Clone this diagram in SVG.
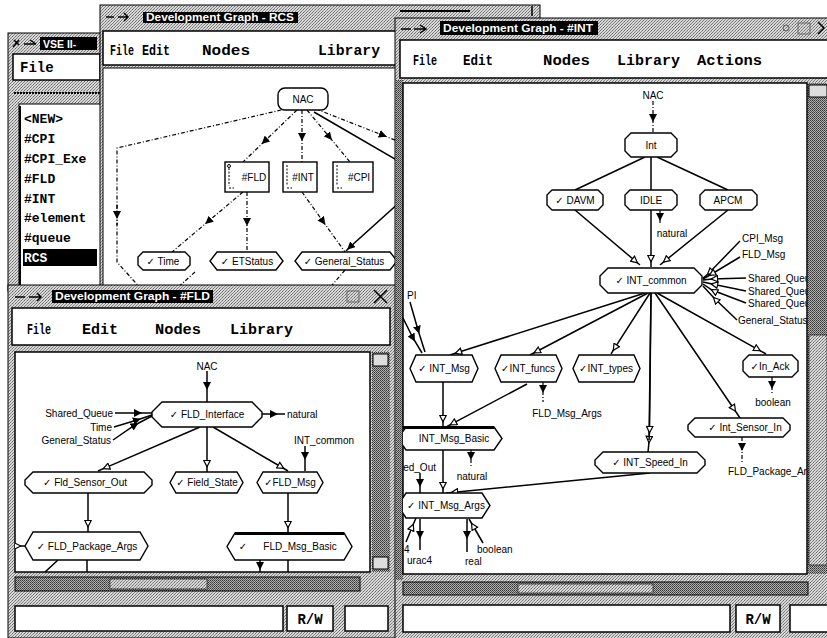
<svg xmlns="http://www.w3.org/2000/svg" width="827" height="638" viewBox="0 0 827 638">
<defs>
<pattern id="dz" width="3" height="3" patternUnits="userSpaceOnUse"><rect width="3" height="3" fill="#d8d8d8"/><rect x="0" y="0" width="1" height="1" fill="#6a6a6a"/><rect x="2" y="1" width="1" height="1" fill="#8a8a8a"/><rect x="1" y="2" width="1" height="1" fill="#7a7a7a"/></pattern>
<pattern id="dk" width="2" height="2" patternUnits="userSpaceOnUse"><rect width="2" height="2" fill="#b0b0b0"/><rect x="0" y="0" width="1" height="1" fill="#333"/><rect x="1" y="1" width="1" height="1" fill="#555"/></pattern>
<marker id="fa" viewBox="0 0 10 10" refX="5" refY="5" markerWidth="8" markerHeight="8" markerUnits="userSpaceOnUse" orient="auto"><path d="M0,0 L10,5 L0,10 z" fill="#000"/></marker>
<marker id="oa" viewBox="0 0 10 10" refX="8" refY="5" markerWidth="8" markerHeight="8" markerUnits="userSpaceOnUse" orient="auto"><path d="M1,1 L9,5 L1,9 z" fill="#fff" stroke="#000" stroke-width="1.5"/></marker>
<clipPath id="cRcs"><rect x="103" y="68" width="293" height="222"/></clipPath>
<clipPath id="cFld"><rect x="15" y="352" width="355" height="220"/></clipPath>
<clipPath id="cInt"><rect x="403" y="83" width="404" height="491"/></clipPath>
<style>
.frame{fill:url(#dz);stroke:#000;stroke-width:1}
.w{fill:#fff;stroke:#000;stroke-width:1.5}
.menu{font-family:"Liberation Mono","DejaVu Sans Mono",monospace;font-weight:bold;font-size:14px;fill:#000}
.vl{font-family:"Liberation Mono","DejaVu Sans Mono",monospace;font-weight:bold;font-size:13px;fill:#000}
.title{font-family:"Liberation Sans",Arial,sans-serif;font-weight:bold;font-size:10.5px;fill:#fff}
.n{fill:#fff;stroke:#000;stroke-width:1.4}
.l{font-family:"Liberation Sans",Arial,"DejaVu Sans",sans-serif;font-size:10px;fill:#000;text-anchor:middle}
.ls{font-family:"Liberation Sans",Arial,"DejaVu Sans",sans-serif;font-size:10px;fill:#000;text-anchor:start}
.le{font-family:"Liberation Sans",Arial,"DejaVu Sans",sans-serif;font-size:10px;fill:#000;text-anchor:end}
.e{fill:none;stroke:#000;stroke-width:1.5}
.d{stroke-dasharray:4 2 1 2;stroke-width:1.2}
.mf{marker-mid:url(#fa)}
.mo{marker-mid:url(#oa)}
.ic{fill:none;stroke:#000;stroke-width:1.5}
</style>
</defs>
<rect width="827" height="638" fill="#fff"/>

<!-- VSE II window -->
<g id="vse-window">
<rect x="8" y="33" width="96" height="258" class="frame"/>
<path d="M13,47 l6,-7 M14,40 l5,5 M24,44 h12 M30,40 l6,4" class="ic"/>
<rect x="40" y="37" width="57" height="13" fill="#000"/>
<text x="43" y="47.5" class="title">VSE II-</text>
<rect x="13" y="54" width="87" height="26" class="w"/>
<text x="20" y="72" class="menu">File</text>
<line x1="14" y1="93" x2="100" y2="93" stroke="#000" stroke-width="2" stroke-dasharray="2 1"/>
<rect x="19" y="104" width="84" height="190" fill="#fff" stroke="#000"/>
<line x1="20" y1="106" x2="20" y2="290" stroke="#000" stroke-width="2"/>
<rect x="23" y="249" width="74" height="17" fill="#000"/>
<text x="24" y="123" class="vl">&lt;NEW&gt;</text>
<text x="24" y="143" class="vl">#CPI</text>
<text x="24" y="163" class="vl">#CPI_Exe</text>
<text x="24" y="183" class="vl">#FLD</text>
<text x="24" y="203" class="vl">#INT</text>
<text x="24" y="222" class="vl">#element</text>
<text x="24" y="242" class="vl">#queue</text>
<text x="24" y="262" class="vl" fill="#fff" style="fill:#fff">RCS</text>
</g>

<!-- RCS window -->
<g id="rcs-window">
<rect x="100" y="5" width="440" height="290" class="frame"/>
<rect x="400" y="10" width="70" height="2" fill="#000"/>
<line x1="532" y1="6" x2="532" y2="16" stroke="#000" stroke-width="1.5"/>
<path d="M106,17 h8 M118,17 h10 M124,13 l4,4 l-4,4" class="ic"/>
<rect x="143" y="12" width="155" height="11" fill="#000"/>
<text x="146" y="21" class="title" textLength="148" lengthAdjust="spacingAndGlyphs">Development Graph - RCS</text>
<rect x="103" y="31" width="300" height="34" class="w"/>
<text x="110" y="55" class="menu" textLength="24" lengthAdjust="spacingAndGlyphs">File</text>
<text x="142" y="55" class="menu" textLength="28" lengthAdjust="spacingAndGlyphs">Edit</text>
<text x="202" y="55" class="menu" textLength="48" lengthAdjust="spacingAndGlyphs">Nodes</text>
<text x="318" y="55" class="menu" textLength="62" lengthAdjust="spacingAndGlyphs">Library</text>
<rect x="103" y="68" width="295" height="225" fill="#fff" stroke="#000"/>
<g clip-path="url(#cRcs)">
<g id="rcs-edges">
<path d="M290,108 L117,148 L117,262 L142,290" class="e d"/>
<path d="M117,205 L117,215 L117,225" class="e d mf"/>
<path d="M297,110 L264.6,141.2 L243,162" class="e d mf"/>
<path d="M302,110 L302,137 L302,162" class="e d mf"/>
<path d="M307,110 L329.4,137 L350,162" class="e d mf"/>
<path d="M316,109 L383,135.3 L400,142" class="e d mf"/>
<path d="M314,112 L400,162" class="e"/>
<path d="M243,192 L208.2,221.4 L172,252" class="e d mf"/>
<path d="M247,192 L247,222 L247,252" class="e d mf"/>
<path d="M302,192 L323,221.4 L345,252" class="e d mf"/>
<path d="M400,202 L350,247 L346,251" class="e mf"/>
<path d="M345,270 L328,290" class="e d"/>
<path d="M195,272 L175,290" class="e d"/>
</g>
<g id="rcs-NAC"><rect x="278" y="88" width="50" height="22" rx="7" class="n"/><text x="303" y="102.5" class="l">NAC</text></g>
<g id="rcs-FLD"><rect x="225" y="162" width="44" height="30" class="n"/><circle cx="229" cy="166" r="1.5" fill="none" stroke="#000"/><path d="M229,168 V186 M229,188 h5" stroke="#000" stroke-dasharray="2 1.5" fill="none"/><text x="254" y="181" class="l">#FLD</text></g>
<g id="rcs-INT"><rect x="283" y="162" width="34" height="30" class="n"/><path d="M287,165 V186 M287,188 h5" stroke="#000" stroke-dasharray="2 1.5" fill="none"/><text x="303" y="181" class="l">#INT</text></g>
<g id="rcs-CPI"><rect x="333" y="162" width="40" height="30" class="n"/><path d="M337,165 V186 M337,188 h5" stroke="#000" stroke-dasharray="2 1.5" fill="none"/><text x="359" y="181" class="l">#CPI</text></g>
<g id="rcs-Time"><polygon points="143,252 185,252 190,257 190,265 185,270 143,270 138,265 138,257" class="n"/><text x="163" y="264.5" class="l">✓ Time</text></g>
<g id="rcs-ETStatus"><polygon points="217,252 276,252 283,261 276,270 217,270 210,261" class="n"/><text x="247" y="264.5" class="l">✓  ETStatus</text></g>
<g id="rcs-General_Status"><polygon points="302,252 390,252 397,261 390,270 302,270 295,261" class="n"/><text x="344" y="264.5" class="l">✓ General_Status</text></g>
</g>
</g>

<!-- FLD window -->
<g id="fld-window">
<rect x="8" y="285" width="390" height="353" class="frame"/>
<path d="M15,297 h10 M29,297 h12 M37,293 l4,4 l-4,4" class="ic"/>
<rect x="52" y="290" width="161" height="13" fill="#000"/>
<text x="55" y="300" class="title" textLength="155" lengthAdjust="spacingAndGlyphs">Development Graph - #FLD</text>
<rect x="347" y="291" width="12" height="11" fill="none" stroke="#666"/>
<path d="M374,290 l13,13 M387,290 l-13,13" stroke="#000" stroke-width="1.5"/>
<rect x="12" y="308" width="378" height="37" class="w"/>
<text x="27" y="334" class="menu" textLength="24" lengthAdjust="spacingAndGlyphs">File</text>
<text x="82" y="334" class="menu" textLength="36" lengthAdjust="spacingAndGlyphs">Edit</text>
<text x="155" y="334" class="menu" textLength="46" lengthAdjust="spacingAndGlyphs">Nodes</text>
<text x="230" y="334" class="menu" textLength="63" lengthAdjust="spacingAndGlyphs">Library</text>
<rect x="15" y="352" width="355" height="220" fill="#fff" stroke="#000" stroke-width="1.5"/>
<rect x="372" y="352" width="18" height="220" fill="url(#dk)"/>
<rect x="373" y="354" width="15" height="12" fill="#ddd" stroke="#000"/>
<rect x="373" y="557" width="15" height="12" fill="#ddd" stroke="#000"/>
<rect x="15" y="577" width="345" height="14" fill="url(#dk)" stroke="#000"/>
<rect x="110" y="579" width="97" height="10" fill="url(#dz)" stroke="#000" stroke-width="0.6"/>
<rect x="15" y="606" width="268" height="25" class="w"/>
<rect x="287" y="606" width="46" height="25" fill="#fff" stroke="#000" stroke-width="1.5"/>
<text x="310" y="624" class="menu" text-anchor="middle">R/W</text>
<rect x="345" y="606" width="43" height="25" class="w"/>
<g clip-path="url(#cFld)">
<g id="fld-edges">
<path d="M207,371 L207,386 L207,402" class="e mf"/>
<path d="M262,414 L274,414 L285,414" class="e mf"/>
<path d="M115,413 L138,413 L152,413" class="e mf"/>
<path d="M114,427 L137,420 L152,415" class="e mf"/>
<path d="M113,440 L135,425 L152,416" class="e mf"/>
<path d="M200,427 L104,468.4 L98,471" class="e mo"/>
<path d="M207,427 L207,466 L207,472" class="e mo"/>
<path d="M213,427 L283,468 L288,471" class="e mo"/>
<path d="M305,446 L305,456 L305,471" class="e mf"/>
<path d="M88,493 L88,526 L88,532" class="e mo"/>
<path d="M288,493 L288,527 L288,533" class="e mo"/>
<path d="M10,546 L20,546 L25,546" class="e mo"/>
<path d="M87,560 L87,572 M58,560 L45,572 M288,560 L288,572" class="e"/>
<path d="M260,560 L260,566 L260,572" class="e mf"/>
</g>
<text x="207" y="369.5" class="l">NAC</text>
<text x="287" y="417.5" class="ls">natural</text>
<text x="113" y="416.5" class="le">Shared_Queue</text>
<text x="112" y="430.5" class="le">Time</text>
<text x="111" y="444" class="le">General_Status</text>
<text x="324" y="444" class="l">INT_common</text>
<g id="fld-FLD_Interface"><polygon points="162,402 252,402 262,412 262,417 252,427 162,427 152,417 152,412" class="n"/><text x="207" y="418" class="l">✓ FLD_Interface</text></g>
<g id="fld-Fld_Sensor_Out"><polygon points="33,472 144,472 152,480 152,485 144,493 33,493 25,485 25,480" class="n"/><text x="85" y="486" class="l">✓ Fld_Sensor_Out</text></g>
<g id="fld-Field_State"><polygon points="176,472 237,472 243,482.5 237,493 176,493 170,482.5" class="n"/><text x="207" y="486" class="l">✓ Field_State</text></g>
<g id="fld-FLD_Msg"><polygon points="263,472 317,472 323,482.5 317,493 263,493 257,482.5" class="n"/><text x="290" y="486" class="l">✓FLD_Msg</text></g>
<g id="fld-FLD_Package_Args"><polygon points="33,532 140,532 148,546 140,560 33,560 25,546" class="n"/><text x="87" y="549.5" class="l">✓ FLD_Package_Args</text></g>
<g id="fld-FLD_Msg_Basic"><polygon points="235,533 344,533 352,546.5 344,560 235,560 227,546.5" class="n"/><line x1="235" y1="533.5" x2="344" y2="533.5" stroke="#000" stroke-width="3"/><text x="243" y="549.5" class="l">✓</text><text x="300" y="550" class="l">FLD_Msg_Basic</text></g>
</g>
</g>

<!-- INT window -->
<g id="int-window">
<rect x="395" y="18" width="435" height="622" class="frame"/>
<rect x="396" y="80" width="7" height="500" fill="url(#dk)"/>
<path d="M401,29 h10 M414,29 h12 M420,25 l6,4 l-6,4" class="ic"/>
<rect x="440" y="21" width="158" height="14" fill="#000"/>
<text x="443" y="31.5" class="title" textLength="150" lengthAdjust="spacingAndGlyphs">Development Graph - #INT</text>
<circle cx="786" cy="28" r="3" fill="none" stroke="#666"/>
<rect x="798" y="23" width="12" height="11" fill="none" stroke="#666"/>
<path d="M818,22 l6,6 l-6,6" fill="none" stroke="#000" stroke-width="1.5"/>
<rect x="400" y="40" width="430" height="38" class="w"/>
<text x="413" y="65" class="menu" textLength="24" lengthAdjust="spacingAndGlyphs">File</text>
<text x="463" y="65" class="menu" textLength="30" lengthAdjust="spacingAndGlyphs">Edit</text>
<text x="543" y="65" class="menu" textLength="47" lengthAdjust="spacingAndGlyphs">Nodes</text>
<text x="617" y="65" class="menu" textLength="63" lengthAdjust="spacingAndGlyphs">Library</text>
<text x="697" y="65" class="menu" textLength="65" lengthAdjust="spacingAndGlyphs">Actions</text>
<rect x="403" y="83" width="404" height="491" fill="#fff" stroke="#000" stroke-width="1.5"/>
<rect x="808" y="83" width="19" height="491" fill="url(#dk)"/>
<rect x="809" y="85" width="18" height="12" fill="#ddd" stroke="#000"/>
<rect x="809" y="335" width="18" height="230" fill="url(#dz)" stroke="#000" stroke-width="0.6"/>
<rect x="403" y="582" width="405" height="13" fill="url(#dk)" stroke="#000"/>
<rect x="518" y="584" width="135" height="9" fill="url(#dz)" stroke="#000" stroke-width="0.6"/>
<rect x="403" y="605" width="327" height="27" class="w"/>
<rect x="736" y="605" width="44" height="27" fill="#fff" stroke="#000" stroke-width="1.5"/>
<text x="758" y="624" class="menu" text-anchor="middle">R/W</text>
<rect x="790" y="605" width="40" height="27" class="w"/>
<g clip-path="url(#cInt)">
<g id="int-edges">
<path d="M653,101 L653,118 L653,133" class="e d mf"/>
<path d="M645,157 L575,190 M651,157 L651,190 M657,157 L728,190" class="e"/>
<path d="M660,210 L660,217 L660,224" class="e d mf"/>
<path d="M575,210 L636.8,262.3 L640,265" class="e mo"/>
<path d="M651,210 L651,261 L651,267" class="e mo"/>
<path d="M728,210 L664,261.7 L660,265" class="e mo"/>
<path d="M740,241 L708,274 L703,278" class="e mo"/>
<path d="M740,257 L710,275 L703,279" class="e mo"/>
<path d="M746,278 L712,279 L703,280" class="e mo"/>
<path d="M746,291 L712,284 L703,282" class="e mo"/>
<path d="M746,303 L712,290 L703,284" class="e mo"/>
<path d="M737,320 L714,298 L703,286" class="e mo"/>
<path d="M645,293 L456,353 L450,355" class="e mo"/>
<path d="M648,293 L534.7,352.5 L530,355" class="e mo"/>
<path d="M650,293 L613.7,349.7 L611,354" class="e mo"/>
<path d="M651,293 L649,442 L648,452" class="e mo"/>
<path d="M651,293 L649.5,432 L649,440" class="e mo"/>
<path d="M655,293 L735,410.5 L740,418" class="e mo"/>
<path d="M657,293 L759.5,350.3 L766,354" class="e mo"/>
<path d="M443,382 L443,421 L443,427" class="e mo"/>
<path d="M527,384 L450.9,424.4 L446,427" class="e mo"/>
<path d="M543,382 L543,389 L543,402" class="e d mf"/>
<path d="M772,377 L772,385 L772,395" class="e d mf"/>
<path d="M742,437 L742,447 L742,462" class="e d mf"/>
<path d="M443,450 L443,488 L443,493" class="e mo"/>
<path d="M471,450 L471,456 L471,467" class="e d mf"/>
<path d="M420,473 L420,483 L420,493" class="e mf"/>
<path d="M650,473 L452.1,492.4 L446,493" class="e mo"/>
<path d="M410,302 L418,330 L425,352" class="e mf"/>
<path d="M403,318 L413,338 L422,353" class="e mf"/>
<path d="M406,542 L413,525 L416,518" class="e mo"/>
<path d="M420,519 L420,535 L420,550" class="e mf"/>
<path d="M467,519 L467,535 L467,552" class="e mf"/>
<path d="M483,543 L472,524 L469,519" class="e mo"/>
</g>
<text x="653" y="99" class="l">NAC</text>
<text x="672" y="236.5" class="l">natural</text>
<text x="742" y="241.5" class="ls">CPI_Msg</text>
<text x="742" y="257.5" class="ls">FLD_Msg</text>
<text x="748" y="281.5" class="ls">Shared_Queu</text>
<text x="748" y="294.5" class="ls">Shared_Queu</text>
<text x="748" y="306.5" class="ls">Shared_Queu</text>
<text x="738" y="323.5" class="ls">General_Status</text>
<text x="567" y="416.5" class="l">FLD_Msg_Args</text>
<text x="773" y="406" class="l">boolean</text>
<text x="728" y="475" class="ls">FLD_Package_Ar</text>
<text x="436" y="471" class="le">ed_Out</text>
<text x="472" y="480" class="l">natural</text>
<text x="407" y="299" class="ls">PI</text>
<text x="404" y="553" class="ls">4</text>
<text x="407" y="564" class="ls">urac4</text>
<text x="465" y="565" class="ls">real</text>
<text x="477" y="553" class="ls">boolean</text>
<g id="int-Int"><polygon points="631,133 671,133 677,139 677,151 671,157 631,157 625,151 625,139" class="n"/><text x="651" y="148.5" class="l">Int</text></g>
<g id="int-DAVM"><polygon points="552,190 598,190 603,195 603,205 598,210 552,210 547,205 547,195" class="n"/><text x="575" y="203.5" class="l">✓ DAVM</text></g>
<g id="int-IDLE"><polygon points="630,190 672,190 677,195 677,205 672,210 630,210 625,205 625,195" class="n"/><text x="651" y="203.5" class="l">IDLE</text></g>
<g id="int-APCM"><polygon points="705,190 752,190 757,195 757,205 752,210 705,210 700,205 700,195" class="n"/><text x="728" y="203.5" class="l">APCM</text></g>
<g id="int-INT_common"><polygon points="608,268 694,268 702,276 702,285 694,293 608,293 600,285 600,276" class="n"/><text x="651" y="284" class="l">✓  INT_common</text></g>
<g id="int-INT_Msg"><polygon points="416,355 472,355 478,368.5 472,382 416,382 410,368.5" class="n"/><text x="444" y="372" class="l">✓ INT_Msg</text></g>
<g id="int-INT_funcs"><polygon points="501,355 556,355 562,368.5 556,382 501,382 495,368.5" class="n"/><text x="528" y="372" class="l">✓INT_funcs</text></g>
<g id="int-INT_types"><polygon points="579,355 634,355 640,368.5 634,382 579,382 573,368.5" class="n"/><text x="606" y="372" class="l">✓INT_types</text></g>
<g id="int-In_Ack"><polygon points="749,355 792,355 798,361 798,371 792,377 749,377 743,371 743,361" class="n"/><text x="770" y="370" class="l">✓In_Ack</text></g>
<g id="int-Int_Sensor_In"><polygon points="695,418 783,418 790,425 790,430 783,437 695,437 688,430 688,425" class="n"/><text x="745" y="431" class="l">✓  Int_Sensor_In</text></g>
<g id="int-INT_Speed_In"><polygon points="603,452 697,452 705,460 705,465 697,473 603,473 595,465 595,460" class="n"/><text x="650" y="466" class="l">✓  INT_Speed_In</text></g>
<g id="int-INT_Msg_Basic"><polygon points="406,427 494,427 502,438.5 494,450 406,450 398,438.5" class="n"/><line x1="400" y1="427.5" x2="494" y2="427.5" stroke="#000" stroke-width="3"/><text x="454" y="442" class="l">INT_Msg_Basic</text></g>
<g id="int-INT_Msg_Args"><polygon points="406,493 482,493 490,505.5 482,518 406,518 398,505.5" class="n"/><text x="446" y="509" class="l">✓ INT_Msg_Args</text></g>
</g>
</g>
</svg>
